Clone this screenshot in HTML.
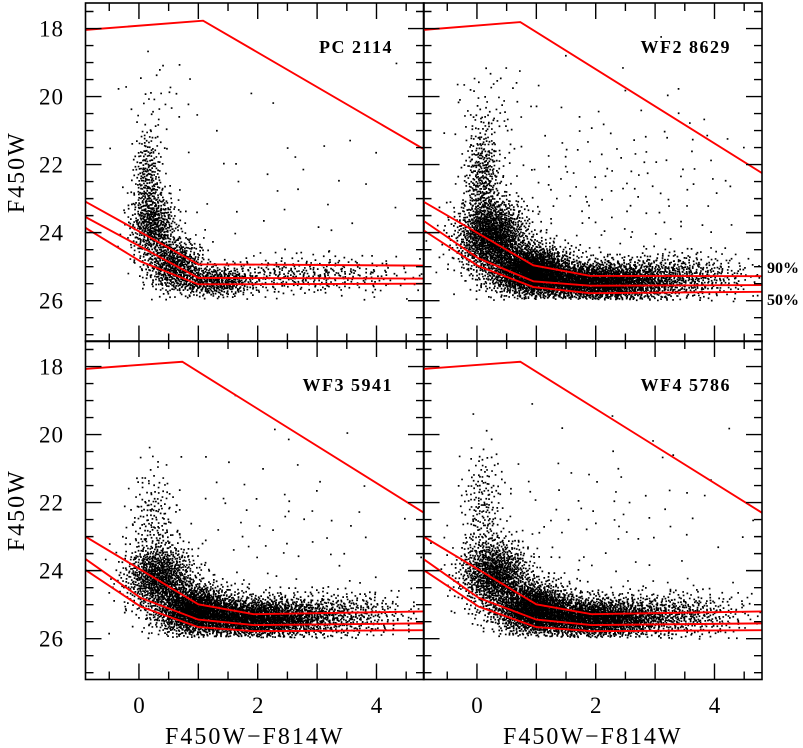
<!DOCTYPE html>
<html><head><meta charset="utf-8">
<style>
html,body{margin:0;padding:0;background:#fff;}
svg{display:block;}
text{font-family:"Liberation Serif",serif;fill:#000;}
</style></head>
<body>
<svg id="chart" width="803" height="748" viewBox="0 0 803 748"></svg>
<script>
// ---- data ----
const panelNames = ["PC 2114","WF2 8629","WF3 5941","WF4 5786"];
const xTicks = [0,2,4];
const yTicks = [18,20,22,24,26];
const xRange = [-0.9,4.8];
const yRange = [17.25,27.2];
// upper bright limit lines per panel: [color, mag]
const upperLines = [
 [[-0.9,18.04],[1.08,17.77],[4.8,21.55]],
 [[-0.9,18.04],[0.73,17.81],[4.8,22.25]],
 [[-0.9,18.07],[0.73,17.86],[4.8,22.3]],
 [[-0.9,18.07],[0.73,17.86],[4.8,22.3]]
];
// completeness lines (top, mid, bottom) per panel
const complLines = [
 [[[-0.9,23.09],[1.0,24.93],[4.8,24.97]],
  [[-0.9,23.54],[1.0,25.33],[4.8,25.35]],
  [[-0.9,23.86],[0.03,24.85],[1.0,25.52],[4.8,25.5]]],
 [[[-0.9,23.09],[0.95,24.96],[1.9,25.27],[4.8,25.28]],
  [[-0.9,23.65],[0.02,24.75],[0.95,25.43],[1.9,25.56],[4.8,25.54]],
  [[-0.9,23.93],[0.02,24.98],[0.95,25.6],[1.9,25.78],[4.8,25.74]]],
 [[[-0.9,23.0],[1.0,24.99],[1.93,25.28],[4.8,25.2]],
  [[-0.9,23.66],[0.03,24.8],[1.0,25.44],[1.93,25.6],[4.8,25.55]],
  [[-0.9,23.98],[0.03,25.06],[1.0,25.66],[1.93,25.78],[4.8,25.75]]],
 [[[-0.9,23.0],[1.0,24.99],[1.93,25.28],[4.8,25.2]],
  [[-0.9,23.66],[0.03,24.8],[1.0,25.44],[1.93,25.6],[4.8,25.55]],
  [[-0.9,23.98],[0.03,25.06],[1.0,25.66],[1.93,25.78],[4.8,25.75]]]
];
// star clumps per panel: [centerColor, centerMag, sigmaColor, sigmaMag, count]
const clumpsPC = [[0.15,22.4,0.12,0.7,260],[0.25,23.8,0.2,0.5,560],[0.6,24.95,0.25,0.4,620],
 [1.3,25.45,0.35,0.22,460],[2.8,25.25,0.9,0.28,400],[2.6,22.8,1.1,1.6,40],[0.3,20.3,0.3,0.8,35]];
const clumpsWF2 = [[0.1,22.4,0.15,0.8,380],[0.25,24.1,0.3,0.55,1500],[0.9,25.1,0.35,0.38,1800],
 [2.0,25.45,0.65,0.3,2400],[3.4,25.3,0.6,0.35,600],[2.2,22.6,1.4,1.5,170],[0.2,20.5,0.3,0.8,60]];
const clumpsWF3 = [[0.25,22.5,0.2,0.8,170],[0.35,24.2,0.3,0.5,1000],[0.95,25.15,0.35,0.38,1500],
 [2.0,25.4,0.6,0.3,2100],[3.4,25.3,0.6,0.35,500],[2.0,22.8,1.3,1.4,80]];
const clumpsWF4 = [[0.1,22.2,0.18,0.9,200],[0.3,24.1,0.3,0.5,1100],[0.95,25.1,0.35,0.38,1600],
 [2.0,25.4,0.6,0.3,2100],[3.4,25.3,0.6,0.35,500],[2.0,22.6,1.3,1.4,90]];
const clumps = [clumpsPC,clumpsWF2,clumpsWF3,clumpsWF4];

// ---- layout ----
const svg = document.getElementById('chart');
const NS = "http://www.w3.org/2000/svg";
const px0=[85.5,423.5], pw=338.5, py0=[3,341], ph=338.5;
function mk(tag, attrs, parent){const e=document.createElementNS(NS,tag);for(const k in attrs)e.setAttribute(k,attrs[k]);(parent||svg).appendChild(e);return e;}
function halton(i,b){let f=1,r=0;while(i>0){f/=b;r+=f*(i%b);i=Math.floor(i/b);}return r;}

for(let p=0;p<4;p++){
  const col=p%2,row=Math.floor(p/2);
  const X0=px0[col],Y0=py0[row];
  const sx=c=>X0+(c-xRange[0])/(xRange[1]-xRange[0])*pw;
  const sy=m=>Y0+(m-yRange[0])/(yRange[1]-yRange[0])*ph;
  const g=mk('g',{});
  
  
  mk('clipPath',{id:'cp'+p},g).appendChild((()=>{const r=document.createElementNS(NS,'rect');r.setAttribute('x',X0);r.setAttribute('y',Y0);r.setAttribute('width',pw);r.setAttribute('height',ph);return r;})());
  const sg=mk('g',{'clip-path':'url(#cp'+p+')',fill:'#000'},g);
  
  
  let idx=1+p*20000;
  let d='';
  for(const cl of clumps[p]){
    for(let k=0;k<cl[4];k++){
      idx++;
      const u1=Math.max(halton(idx,2),1e-6),u2=halton(idx,3);
      const rr=Math.sqrt(-2*Math.log(u1));
      const c=cl[0]+cl[2]*rr*Math.cos(2*Math.PI*u2);
      const m=cl[1]+cl[3]*rr*Math.sin(2*Math.PI*u2);
      if(m>25.95+0.03*Math.abs(c-1.5)) continue;
      d+='M'+(sx(c)-0.8).toFixed(1)+' '+(sy(m)-0.8).toFixed(1)+'h1.7v1.7h-1.7z';
    }
  }
  const sp=mk('path',{d:d},sg);
  
  
  const lg=mk('g',{'clip-path':'url(#cp'+p+')',fill:'none',stroke:'#f00','stroke-width':1.9},g);
  const ul=mk('polyline',{points:upperLines[p].map(q=>sx(q[0])+','+sy(q[1])).join(' ')},lg);
  
  
  complLines[p].forEach((ln,i)=>{
    const pl=mk('polyline',{points:ln.map(q=>sx(q[0])+','+sy(q[1])).join(' ')},lg);
    
    
  });
  const fr=mk('rect',{x:X0,y:Y0,width:pw,height:ph,fill:'none',stroke:'#000','stroke-width':1.6},g);
  
  
  let td='';
  for(let v=-0.5;v<=4.8;v+=0.5){
    const L=(Math.abs(v-Math.round(v))<1e-6)?16:8;const x=sx(v);
    td+=`M${x} ${Y0+ph}v${-L}M${x} ${Y0}v${L}`;
  }
  for(let v=17.5;v<=27.0;v+=0.5){
    const L=(Math.abs(v-Math.round(v))<1e-6 && Math.round(v)%2===0)?16:8;const y=sy(v);
    td+=`M${X0} ${y}h${L}M${X0+pw} ${y}h${-L}`;
  }
  const tk=mk('path',{d:td,stroke:'#000','stroke-width':1.4,fill:'none'},g);
  
  
  const lb=mk('text',{x:X0+pw-31,y:Y0+50,'text-anchor':'end','font-size':18,'font-weight':'bold','letter-spacing':'1.5'},g);
  lb.textContent=panelNames[p];
  
  
  if(col===0){
    yTicks.forEach(v=>{const t=mk('text',{x:64,y:sy(v)+8,'text-anchor':'end','font-size':23,'letter-spacing':'1'},g);t.textContent=v;
      
      });
    const yt=mk('text',{x:0,y:0,'text-anchor':'middle','font-size':24,'letter-spacing':'2',transform:`translate(24 ${Y0+ph/2}) rotate(-90)`},g);
    yt.textContent='F450W';
    
    
  }
  if(row===1){
    xTicks.forEach(v=>{const t=mk('text',{x:sx(v),y:713,'text-anchor':'middle','font-size':23},g);t.textContent=v;
      
      });
    const xt=mk('text',{x:X0+pw/2,y:744,'text-anchor':'middle','font-size':24,'letter-spacing':'2'},g);
    xt.textContent='F450W\u2212F814W';
    
    
  }
}
const t90=mk('text',{x:767,y:273,'font-size':16,'font-weight':'bold'});
t90.textContent='90%';


const t50=mk('text',{x:767,y:305,'font-size':16,'font-weight':'bold'});
t50.textContent='50%';


</script>
</body></html>
